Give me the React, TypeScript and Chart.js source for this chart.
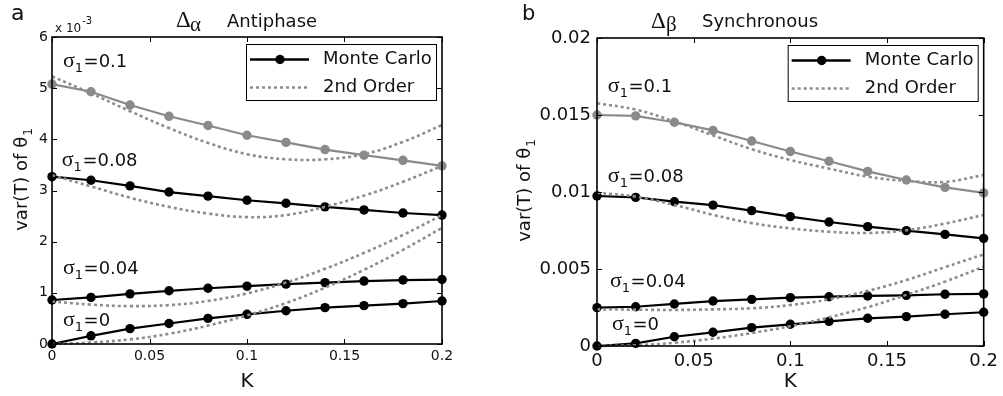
import React, { useEffect, useRef } from "react";
import { Chart, registerables } from "chart.js";
Chart.register(...registerables);

// ---------- data ----------
const K = [0, 0.02, 0.04, 0.06, 0.08, 0.1, 0.12, 0.14, 0.16, 0.18, 0.2];

// Panel a (Antiphase), values in units of 10^-3
const aMC_010 = [5.08, 4.93, 4.67, 4.45, 4.27, 4.08, 3.94, 3.8, 3.69, 3.59, 3.48];
const aSO_010 = [5.23, 4.9, 4.55, 4.22, 3.93, 3.71, 3.61, 3.61, 3.71, 3.95, 4.28];
const aMC_008 = [3.27, 3.2, 3.09, 2.97, 2.89, 2.81, 2.75, 2.68, 2.62, 2.56, 2.52];
const aSO_008 = [3.3, 3.08, 2.86, 2.68, 2.55, 2.48, 2.52, 2.68, 2.9, 3.17, 3.48];
const aMC_004 = [0.86, 0.91, 0.98, 1.04, 1.09, 1.13, 1.17, 1.2, 1.23, 1.25, 1.26];
const aSO_004 = [0.83, 0.77, 0.74, 0.76, 0.84, 0.99, 1.2, 1.47, 1.78, 2.13, 2.52];
const aMC_000 = [0, 0.16, 0.3, 0.4, 0.5, 0.58, 0.65, 0.71, 0.75, 0.79, 0.84];
const aSO_000 = [0, 0.03, 0.09, 0.2, 0.36, 0.56, 0.8, 1.1, 1.45, 1.84, 2.27];

// Panel b (Synchronous)
const bMC_010 = [0.015, 0.01494, 0.01453, 0.014, 0.01331, 0.01263, 0.012, 0.01134, 0.01078, 0.0103, 0.00994];
const bSO_010 = [0.01576, 0.01535, 0.01458, 0.01368, 0.01278, 0.01208, 0.01152, 0.011, 0.01072, 0.01066, 0.0111];
const bMC_008 = [0.00974, 0.00965, 0.00937, 0.00915, 0.00879, 0.0084, 0.00805, 0.00775, 0.00749, 0.00725, 0.00699];
const bSO_008 = [0.00996, 0.0097, 0.00916, 0.00852, 0.00798, 0.00764, 0.00742, 0.00734, 0.00752, 0.00795, 0.00851];
const bMC_004 = [0.00249, 0.00255, 0.00273, 0.00292, 0.00303, 0.00314, 0.0032, 0.00325, 0.00329, 0.00336, 0.00338];
const bSO_004 = [0.00238, 0.00236, 0.00234, 0.00238, 0.00245, 0.00266, 0.00303, 0.00358, 0.00428, 0.00512, 0.00595];
const bMC_000 = [0, 0.00017, 0.0006, 0.00089, 0.00119, 0.00141, 0.0016, 0.0018, 0.00191, 0.00206, 0.00219];
const bSO_000 = [0, 0.00005, 0.00021, 0.00048, 0.00084, 0.00129, 0.00186, 0.00252, 0.00332, 0.00418, 0.00515];

const xTicks = [0, 0.05, 0.1, 0.15, 0.2];
const aYTicks = [0, 1, 2, 3, 4, 5, 6];
const bYTicks = [0, 0.005, 0.01, 0.015, 0.02];

const sigmaLabels = ["0.1", "0.08", "0.04", "0"];
const legendLabels = ["Monte Carlo", "2nd Order"];

// ---------- styles ----------
const SANS = '"DejaVu Sans", sans-serif';
const SERIF = '"Liberation Serif", "DejaVu Serif", serif';
const BLACK = "#000000";
const GRAY = "#8a8a8a";
const DOT = "#8c8c8c";
const DASH = [3, 3];

const pts = (arr: number[]) => K.map((k, i) => ({ x: k, y: arr[i] }));

const mcSet = (arr: number[], color: string) => ({
  data: pts(arr),
  borderColor: color,
  backgroundColor: color,
  borderWidth: 2.2,
  pointRadius: 4.7,
  pointBackgroundColor: color,
  pointBorderColor: color,
  pointBorderWidth: 0,
  tension: 0,
  clip: false as any,
});
const soSet = (arr: number[]) => ({
  data: pts(arr),
  borderColor: DOT,
  borderWidth: 2.6,
  borderDash: DASH,
  pointRadius: 0,
  tension: 0.4,
  clip: false as any,
});

type PanelCfg = {
  width: number;
  yMax: number;
  yTicks: number[];
  yFmt: (v: number) => string;
  series: [number[], number[]][];
  pad: { top: number; right: number };
  yAxisWidth: number;
  xAxisHeight: number;
  tickFont: number;
  xTickPad: number;
  yTickPad: number;
  letter: { text: string; x: number; y: number; size: number };
  title: { big: string; sub: string; word: string; bx: number; sx: number; wx: number; by: number; sy: number };
  sigmaPos: { x: number; y: number }[];
  yTitle: { x: number; y: number };
  xTitleY: number;
  exponent: boolean;
};

const panelA: PanelCfg = {
  width: 500,
  yMax: 6,
  yTicks: aYTicks,
  yFmt: (v) => String(v),
  series: [
    [aMC_010, aSO_010],
    [aMC_008, aSO_008],
    [aMC_004, aSO_004],
    [aMC_000, aSO_000],
  ],
  pad: { top: 37, right: 58 },
  yAxisWidth: 52,
  xAxisHeight: 52,
  tickFont: 14,
  xTickPad: 4,
  yTickPad: 4,
  letter: { text: "a", x: 11, y: 20, size: 22 },
  title: { big: "Δ", sub: "α", word: "Antiphase", bx: 176, sx: 190, wx: 227, by: 27, sy: 31 },
  sigmaPos: [
    { x: 0.0056, y: 5.41 },
    { x: 0.005, y: 3.48 },
    { x: 0.0056, y: 1.37 },
    { x: 0.0056, y: 0.35 },
  ],
  yTitle: { x: 27, y: 180 },
  xTitleY: 387,
  exponent: true,
};

const panelB: PanelCfg = {
  width: 503,
  yMax: 0.02,
  yTicks: bYTicks,
  yFmt: (v) => String(Number(v.toFixed(3))),
  series: [
    [bMC_010, bSO_010],
    [bMC_008, bSO_008],
    [bMC_004, bSO_004],
    [bMC_000, bSO_000],
  ],
  pad: { top: 38, right: 16 },
  yAxisWidth: 97,
  xAxisHeight: 50,
  tickFont: 18,
  xTickPad: 5,
  yTickPad: 6,
  letter: { text: "b", x: 22, y: 20, size: 21 },
  title: { big: "Δ", sub: "β", word: "Synchronous", bx: 151, sx: 166, wx: 202, by: 28, sy: 31 },
  sigmaPos: [
    { x: 0.0056, y: 0.01649 },
    { x: 0.0056, y: 0.01065 },
    { x: 0.0067, y: 0.00383 },
    { x: 0.0077, y: 0.00104 },
  ],
  yTitle: { x: 30, y: 191 },
  xTitleY: 387,
  exponent: false,
};

function drawSigma(ctx: CanvasRenderingContext2D, x: number, y: number, val: string) {
  ctx.textAlign = "left";
  ctx.textBaseline = "alphabetic";
  ctx.font = `22px ${SERIF}`;
  ctx.fillText("σ", x, y);
  const w = ctx.measureText("σ").width;
  ctx.font = `13px ${SANS}`;
  ctx.fillText("1", x + w, y + 5);
  const w2 = ctx.measureText("1").width;
  ctx.font = `18px ${SANS}`;
  ctx.fillText("=" + val, x + w + w2 + 0.5, y);
}

function decorPlugin(cfg: PanelCfg) {
  return {
    id: "decor",
    afterDraw(chart: any) {
      const ctx: CanvasRenderingContext2D = chart.ctx;
      const { left, right, top, bottom } = chart.chartArea;
      const xs = chart.scales.x;
      const ys = chart.scales.y;
      ctx.save();
      // frame
      ctx.strokeStyle = "#000";
      ctx.lineWidth = 1.6;
      ctx.strokeRect(left, top, right - left, bottom - top);
      // inward ticks
      ctx.lineWidth = 1;
      const TL = 5;
      ctx.beginPath();
      xTicks.forEach((v) => {
        const px = Math.round(xs.getPixelForValue(v)) + 0.5;
        ctx.moveTo(px, bottom);
        ctx.lineTo(px, bottom - TL);
        ctx.moveTo(px, top);
        ctx.lineTo(px, top + TL);
      });
      cfg.yTicks.forEach((v) => {
        const py = Math.round(ys.getPixelForValue(v)) + 0.5;
        ctx.moveTo(left, py);
        ctx.lineTo(left + TL, py);
        ctx.moveTo(right, py);
        ctx.lineTo(right - TL, py);
      });
      ctx.stroke();

      ctx.fillStyle = "#111";
      cfg.sigmaPos.forEach((p, i) => {
        drawSigma(ctx, xs.getPixelForValue(p.x), ys.getPixelForValue(p.y), sigmaLabels[i]);
      });

      // legend
      const bx = right - 196;
      const by = top + 7;
      const bw = 190;
      const bh = 56;
      ctx.fillStyle = "#fff";
      ctx.fillRect(bx, by, bw, bh);
      ctx.strokeStyle = "#000";
      ctx.lineWidth = 1;
      ctx.strokeRect(bx + 0.5, by + 0.5, bw, bh);
      const r1 = by + 15.5;
      const r2 = by + 43.5;
      ctx.strokeStyle = BLACK;
      ctx.lineWidth = 2.4;
      ctx.beginPath();
      ctx.moveTo(bx + 4, r1);
      ctx.lineTo(bx + 63, r1);
      ctx.stroke();
      ctx.fillStyle = BLACK;
      ctx.beginPath();
      ctx.arc(bx + 34, r1, 4.7, 0, Math.PI * 2);
      ctx.fill();
      ctx.strokeStyle = DOT;
      ctx.lineWidth = 2.6;
      ctx.setLineDash(DASH);
      ctx.beginPath();
      ctx.moveTo(bx + 4, r2);
      ctx.lineTo(bx + 64, r2);
      ctx.stroke();
      ctx.setLineDash([]);
      ctx.fillStyle = "#111";
      ctx.font = `18px ${SANS}`;
      ctx.textAlign = "left";
      ctx.textBaseline = "middle";
      ctx.fillText(legendLabels[0], bx + 77, r1);
      ctx.fillText(legendLabels[1], bx + 77, r2);

      // panel letter
      ctx.textBaseline = "alphabetic";
      ctx.font = `${cfg.letter.size}px ${SANS}`;
      ctx.fillText(cfg.letter.text, cfg.letter.x, cfg.letter.y);

      // title
      const t = cfg.title;
      ctx.font = `23px ${SERIF}`;
      ctx.fillText(t.big, t.bx, t.by);
      ctx.font = `21px ${SERIF}`;
      ctx.fillText(t.sub, t.sx, t.sy);
      ctx.font = `18px ${SANS}`;
      ctx.fillText(t.word, t.wx, 27);

      if (cfg.exponent) {
        ctx.font = `12px ${SANS}`;
        ctx.fillText("x 10", left + 3, top - 5);
        const w = ctx.measureText("x 10").width;
        ctx.font = `10px ${SANS}`;
        ctx.fillText("-3", left + 3 + w + 1, top - 13);
      }

      ctx.font = `20px ${SANS}`;
      ctx.textAlign = "center";
      ctx.fillText("K", (left + right) / 2, cfg.xTitleY);

      ctx.save();
      ctx.translate(cfg.yTitle.x, cfg.yTitle.y);
      ctx.rotate(-Math.PI / 2);
      ctx.textAlign = "left";
      ctx.font = `18px ${SANS}`;
      const main = "var(T) of θ";
      const w1 = ctx.measureText(main).width;
      ctx.font = `12px ${SANS}`;
      const ws = ctx.measureText("1").width;
      const sx = -(w1 + ws) / 2;
      ctx.font = `18px ${SANS}`;
      ctx.fillText(main, sx, 0);
      ctx.font = `12px ${SANS}`;
      ctx.fillText("1", sx + w1 + 1, 5);
      ctx.restore();

      ctx.restore();
    },
  };
}

function buildConfig(cfg: PanelCfg): any {
  const colors = [GRAY, BLACK, BLACK, BLACK];
  const datasets: any[] = [];
  cfg.series.forEach(([, so]) => datasets.push(soSet(so)));
  cfg.series.forEach(([mc], i) => datasets.push(mcSet(mc, colors[i])));
  return {
    type: "line",
    data: { datasets },
    options: {
      responsive: false,
      maintainAspectRatio: false,
      animation: false,
      devicePixelRatio: 1,
      layout: { padding: { top: cfg.pad.top, right: cfg.pad.right, left: 0, bottom: 0 } },
      plugins: { legend: { display: false }, tooltip: { enabled: false }, title: { display: false } },
      scales: {
        x: {
          type: "linear",
          min: 0,
          max: 0.2,
          afterFit: (s: any) => {
            s.height = cfg.xAxisHeight;
          },
          afterBuildTicks: (s: any) => {
            s.ticks = xTicks.map((v) => ({ value: v }));
          },
          grid: { display: false, drawTicks: false },
          border: { display: false },
          ticks: {
            padding: cfg.xTickPad,
            color: "#111",
            font: { family: SANS, size: cfg.tickFont },
            maxRotation: 0,
            callback: (v: number) => String(Number(Number(v).toFixed(2))),
          },
        },
        y: {
          type: "linear",
          min: 0,
          max: cfg.yMax,
          afterFit: (s: any) => {
            s.width = cfg.yAxisWidth;
          },
          afterBuildTicks: (s: any) => {
            s.ticks = cfg.yTicks.map((v) => ({ value: v }));
          },
          grid: { display: false, drawTicks: false },
          border: { display: false },
          ticks: {
            padding: cfg.yTickPad,
            color: "#111",
            font: { family: SANS, size: cfg.tickFont },
            callback: (v: number) => cfg.yFmt(Number(v)),
          },
        },
      },
    },
    plugins: [decorPlugin(cfg)],
  };
}

export default function App() {
  const refA = useRef<HTMLCanvasElement>(null);
  const refB = useRef<HTMLCanvasElement>(null);
  useEffect(() => {
    const a = new Chart(refA.current as HTMLCanvasElement, buildConfig(panelA));
    const b = new Chart(refB.current as HTMLCanvasElement, buildConfig(panelB));
    return () => {
      a.destroy();
      b.destroy();
    };
  }, []);
  return (
    <div style={{ position: "absolute", left: 0, top: 0, width: 1003, height: 396, background: "#fff" }}>
      <canvas
        ref={refA}
        width={panelA.width}
        height={396}
        style={{ position: "absolute", left: 0, top: 0, width: panelA.width, height: 396 }}
      />
      <canvas
        ref={refB}
        width={panelB.width}
        height={396}
        style={{ position: "absolute", left: 500, top: 0, width: panelB.width, height: 396 }}
      />
    </div>
  );
}
